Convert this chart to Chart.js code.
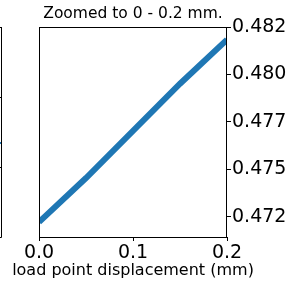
<!DOCTYPE html>
<html>
<head>
<meta charset="utf-8">
<script src="https://cdn.jsdelivr.net/npm/chart.js@4.4.0/dist/chart.umd.min.js"></script>
<style>
  html, body { margin: 0; padding: 0; background: #fff; }
  #wrap { width: 298px; height: 286px; }
</style>
</head>
<body>
<div id="wrap"><canvas id="chart" width="298" height="286"></canvas></div>
<script>
// load point displacement (mm) and the zoomed signal
const displacement = [0, 0.05, 0.1, 0.15, 0.2];
const signal = [0.47222, 0.47454, 0.47702, 0.47951, 0.48183];

const yTickValues = [0.4725, 0.4750, 0.4775, 0.4800, 0.4825];
const yTickLabels = ['0.472', '0.475', '0.477', '0.480', '0.482'];
const xTickValues = [0, 0.1, 0.2];
const titleText = 'Zoomed to 0 - 0.2 mm.';
const xLabelText = 'load point displacement (mm)';

const FONT = "'DejaVu Sans', sans-serif";

// box around the plot, title and x label centred on the plot (they are
// wider than it), and the edge of the neighbouring panel cut off on the left
const framePlugin = {
    id: 'frame',
    afterDraw(chart) {
        const a = chart.chartArea;
        const c = chart.ctx;
        const cx = (a.left + a.right) / 2;
        c.save();
        c.strokeStyle = '#000';
        c.lineWidth = 1;
        c.strokeRect(Math.round(a.left) + 0.5, Math.round(a.top) + 0.5,
            Math.round(a.right - a.left) - 1, Math.round(a.bottom - a.top));

        c.fillStyle = '#000';
        c.textAlign = 'center';
        c.textBaseline = 'middle';
        c.font = '15.5px ' + FONT;
        c.fillText(titleText, cx, 14);
        c.font = '16px ' + FONT;
        c.fillText(xLabelText, cx, 271);

        c.beginPath();
        c.moveTo(1.5, a.top);
        c.lineTo(1.5, a.bottom + 0.5);
        c.moveTo(0, Math.round(a.top) + 0.5);
        c.lineTo(1.5, Math.round(a.top) + 0.5);
        c.moveTo(0, Math.round(a.bottom) + 0.5);
        c.lineTo(1.5, Math.round(a.bottom) + 0.5);
        c.moveTo(0, 97.5); c.lineTo(1.5, 97.5);
        c.moveTo(0, 167.5); c.lineTo(1.5, 167.5);
        c.stroke();
        c.fillStyle = '#1f77b4';
        c.fillRect(0, 142, 1, 2);
        c.restore();
    }
};

new Chart(document.getElementById('chart').getContext('2d'), {
    type: 'line',
    data: {
        datasets: [{
            data: displacement.map((x, i) => ({ x: x, y: signal[i] })),
            borderColor: '#1f77b4',
            borderWidth: 6,
            pointRadius: 0,
            tension: 0,
            fill: false
        }]
    },
    options: {
        responsive: false,
        animation: false,
        layout: { padding: { left: 39, right: 0, top: 27, bottom: 0 } },
        plugins: {
            legend: { display: false },
            tooltip: { enabled: false },
            title: { display: false }
        },
        scales: {
            x: {
                type: 'linear',
                min: 0,
                max: 0.2,
                afterBuildTicks: s => { s.ticks = xTickValues.map(v => ({ value: v })); },
                afterFit: s => { s.height = 49; },
                grid: { display: true, drawOnChartArea: false, drawTicks: true, tickLength: 4, color: '#000' },
                border: { display: false },
                ticks: {
                    color: '#000',
                    font: { family: FONT, size: 19 },
                    padding: 1,
                    maxRotation: 0,
                    callback: v => v.toFixed(1)
                },
                title: { display: false }
            },
            y: {
                type: 'linear',
                position: 'right',
                min: 0.47143,
                max: 0.4825,
                afterBuildTicks: s => { s.ticks = yTickValues.map(v => ({ value: v })); },
                afterFit: s => { s.width = 71; },
                grid: { display: true, drawOnChartArea: false, drawTicks: true, tickLength: 4, color: '#000' },
                border: { display: false },
                ticks: {
                    color: '#000',
                    font: { family: FONT, size: 19 },
                    padding: 1,
                    callback: (v, i) => yTickLabels[i]
                }
            }
        }
    },
    plugins: [framePlugin]
});
</script>
</body>
</html>
